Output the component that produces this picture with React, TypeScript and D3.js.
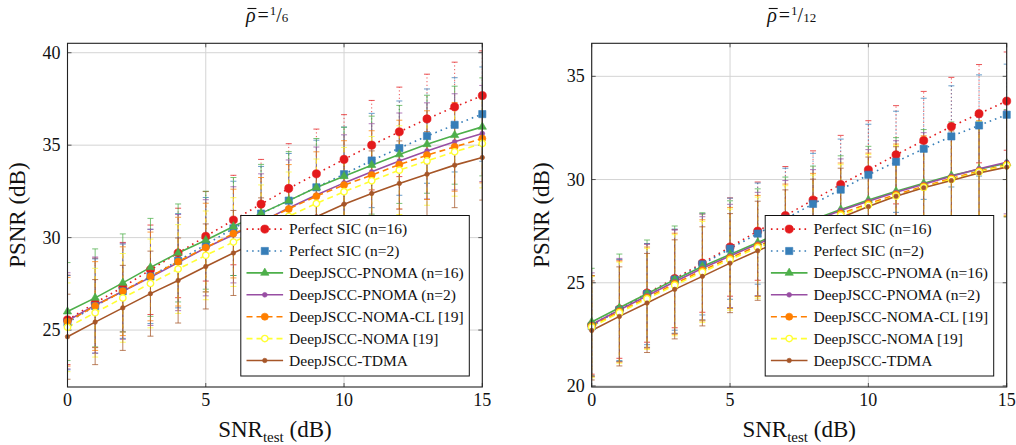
import React from "react";
import * as d3 from "d3";

// ---------- data ----------
const snrTest = [0, 1, 2, 3, 4, 5, 6, 7, 8, 9, 10, 11, 12, 13, 14, 15];

const seriesNames = [
  "Perfect SIC (n=16)",
  "Perfect SIC (n=2)",
  "DeepJSCC-PNOMA (n=16)",
  "DeepJSCC-PNOMA (n=2)",
  "DeepJSCC-NOMA-CL [19]",
  "DeepJSCC-NOMA [19]",
  "DeepJSCC-TDMA",
];

// Left panel: rho = 1/6
const leftPerfect16 = [25.55, 26.47, 27.32, 28.26, 29.17, 30.07, 30.95, 31.81, 32.66, 33.45, 34.23, 35.0, 35.72, 36.42, 37.07, 37.68];
const leftPerfect2 = [25.4, 26.3, 27.1, 27.9, 28.75, 29.62, 30.5, 31.3, 32.0, 32.72, 33.43, 34.17, 34.84, 35.49, 36.1, 36.68];
const leftPnoma16 = [26.0, 26.74, 27.55, 28.39, 29.17, 29.86, 30.6, 31.31, 32.0, 32.71, 33.32, 33.92, 34.5, 35.05, 35.54, 35.99];
const leftPnoma2 = [25.5, 26.35, 27.1, 27.85, 28.65, 29.45, 30.15, 30.85, 31.6, 32.3, 32.96, 33.56, 34.14, 34.69, 35.18, 35.63];
const leftNomaCl = [25.45, 26.3, 27.1, 27.9, 28.7, 29.46, 30.22, 30.85, 31.55, 32.24, 32.84, 33.38, 33.95, 34.46, 34.91, 35.36];
const leftNoma = [25.15, 25.94, 26.74, 27.52, 28.3, 29.04, 29.76, 30.45, 31.15, 31.85, 32.48, 33.07, 33.65, 34.15, 34.64, 35.09];
const leftTdma = [24.64, 25.43, 26.2, 26.97, 27.68, 28.44, 29.17, 29.85, 30.5, 31.13, 31.81, 32.39, 32.93, 33.43, 33.92, 34.33];
// half-length of the error bars (dB) per series
const leftErr = [2.42, 2.55, 2.65, 2.6, 2.4, 2.4, 2.3];

// Right panel: rho = 1/12
const rightPerfect16 = [22.95, 23.72, 24.5, 25.2, 25.95, 26.73, 27.5, 28.25, 29.01, 29.76, 30.47, 31.2, 31.89, 32.57, 33.19, 33.8];
const rightPerfect2 = [22.9, 23.68, 24.45, 25.15, 25.89, 26.65, 27.38, 28.1, 28.82, 29.51, 30.23, 30.86, 31.49, 32.09, 32.62, 33.14];
const rightPnoma16 = [23.1, 23.79, 24.47, 25.15, 25.79, 26.37, 26.95, 27.52, 28.05, 28.55, 29.01, 29.43, 29.82, 30.19, 30.5, 30.79];
const rightPnoma2 = [22.98, 23.68, 24.37, 25.05, 25.7, 26.3, 26.88, 27.45, 27.98, 28.5, 28.95, 29.38, 29.77, 30.16, 30.52, 30.84];
const rightNomaCl = [22.9, 23.6, 24.28, 24.95, 25.6, 26.2, 26.78, 27.33, 27.85, 28.35, 28.83, 29.27, 29.67, 30.05, 30.4, 30.72];
const rightNoma = [22.85, 23.55, 24.22, 24.88, 25.52, 26.12, 26.7, 27.25, 27.77, 28.27, 28.76, 29.2, 29.62, 30.0, 30.36, 30.68];
const rightTdma = [22.69, 23.37, 24.02, 24.68, 25.31, 25.95, 26.55, 27.1, 27.62, 28.15, 28.69, 29.19, 29.6, 29.95, 30.32, 30.6];
const rightErr = [2.38, 2.45, 2.6, 2.5, 2.45, 2.45, 2.4];

const xTicks = [0, 5, 10, 15];
const leftYTicks = [25, 30, 35, 40];
const rightYTicks = [20, 25, 30, 35];

// ---------- styles ----------
type Style = {
  color: string;
  dash: string;
  marker: "circle" | "square" | "triangle" | "smallcircle" | "open";
  size: number;
};
const styles: Style[] = [
  { color: "#e41a1c", dash: "1.6 4", marker: "circle", size: 52 },
  { color: "#377eb8", dash: "1.6 4", marker: "square", size: 52 },
  { color: "#4daf4a", dash: "", marker: "triangle", size: 30 },
  { color: "#984ea3", dash: "", marker: "smallcircle", size: 18 },
  { color: "#ff7f00", dash: "6 4", marker: "circle", size: 40 },
  { color: "#ffff33", dash: "6 4", marker: "open", size: 32 },
  { color: "#a65628", dash: "", marker: "smallcircle", size: 16 },
];

const FONT = '"Liberation Serif", "Times New Roman", Times, "DejaVu Serif", serif';

function symbolPath(s: Style) {
  const t =
    s.marker === "square"
      ? d3.symbolSquare
      : s.marker === "triangle"
      ? d3.symbolTriangle
      : d3.symbolCircle;
  return d3.symbol().type(t).size(s.size)() as string;
}

function Marker({ s, x, y }: { s: Style; x: number; y: number }) {
  const open = s.marker === "open";
  return (
    <path
      d={symbolPath(s)}
      transform={`translate(${x},${y})`}
      fill={open ? "#ffffff" : s.color}
      stroke={s.color}
      strokeWidth={open ? 1.4 : 0.6}
    />
  );
}

type PanelProps = {
  series: number[][];
  errs: number[];
  x0: number;
  x1: number;
  yTop: number;
  yBot: number;
  yDomain: [number, number];
  yTicks: number[];
  titleDen: string;
  id: string;
};

function Panel(p: PanelProps) {
  const x = d3.scaleLinear().domain([0, 15]).range([p.x0, p.x1]);
  const y = d3.scaleLinear().domain(p.yDomain).range([p.yBot, p.yTop]);
  const line = d3
    .line<number>()
    .x((_, i) => x(snrTest[i]))
    .y((d) => y(d));
  const cx = (p.x0 + p.x1) / 2;
  const cy = (p.yTop + p.yBot) / 2;
  const tick = 4;

  // legend geometry
  const lgRight = p.x1 - 13;
  const lgW = 228.5;
  const lgX = lgRight - lgW;
  const lgBottom = p.yBot - 11;
  const lgH = 160.5;
  const lgY = lgBottom - lgH;
  const rowH = 21.9;

  const titleW = p.titleDen.length > 1 ? 64 : 58;
  const tx0 = cx - titleW / 2;

  return (
    <g style={{ fontFamily: FONT }}>
      <defs>
        <clipPath id={`clip-${p.id}`}>
          <rect x={p.x0} y={p.yTop} width={p.x1 - p.x0} height={p.yBot - p.yTop} />
        </clipPath>
      </defs>
      {/* grid */}
      {xTicks.map((t) => (
        <line key={`gx${t}`} x1={x(t)} x2={x(t)} y1={p.yTop} y2={p.yBot} stroke="#d4d4d4" strokeWidth={1} />
      ))}
      {p.yTicks.map((t) => (
        <line key={`gy${t}`} x1={p.x0} x2={p.x1} y1={y(t)} y2={y(t)} stroke="#d4d4d4" strokeWidth={1} />
      ))}
      {/* ticks (inside, all sides) */}
      {xTicks.map((t) => (
        <g key={`tx${t}`} stroke="#555" strokeWidth={1}>
          <line x1={x(t)} x2={x(t)} y1={p.yBot} y2={p.yBot - tick} />
          <line x1={x(t)} x2={x(t)} y1={p.yTop} y2={p.yTop + tick} />
        </g>
      ))}
      {p.yTicks.map((t) => (
        <g key={`ty${t}`} stroke="#555" strokeWidth={1}>
          <line x1={p.x0} x2={p.x0 + tick} y1={y(t)} y2={y(t)} />
          <line x1={p.x1} x2={p.x1 - tick} y1={y(t)} y2={y(t)} />
        </g>
      ))}

      {/* series */}
      <g clipPath={`url(#clip-${p.id})`}>
        {p.series.map((vals, si) => {
          const s = styles[si];
          const e = p.errs[si];
          return (
            <g key={`s${si}`}>
              {vals.map((v, i) => (
                <g key={`e${i}`} stroke={s.color} strokeWidth={0.75}>
                  <line
                    x1={x(snrTest[i])}
                    x2={x(snrTest[i])}
                    y1={y(v - e)}
                    y2={y(v + e)}
                    strokeDasharray={s.dash === "1.6 4" ? "1.2 2.5" : s.dash ? "4 3" : ""}
                  />
                  <line x1={x(snrTest[i]) - 3} x2={x(snrTest[i]) + 3} y1={y(v - e)} y2={y(v - e)} />
                  <line x1={x(snrTest[i]) - 3} x2={x(snrTest[i]) + 3} y1={y(v + e)} y2={y(v + e)} />
                </g>
              ))}
              <path
                d={line(vals) as string}
                fill="none"
                stroke={s.color}
                strokeWidth={1.6}
                strokeDasharray={s.dash}
              />
            </g>
          );
        })}
      </g>
      {p.series.map((vals, si) => (
        <g key={`m${si}`}>
          {vals.map((v, i) => (
            <Marker key={i} s={styles[si]} x={x(snrTest[i])} y={y(v)} />
          ))}
        </g>
      ))}

      {/* axis box */}
      <rect x={p.x0} y={p.yTop} width={p.x1 - p.x0} height={p.yBot - p.yTop} fill="none" stroke="#222" strokeWidth={1.1} />

      {/* tick labels */}
      {xTicks.map((t) => (
        <text key={`lx${t}`} x={x(t)} y={p.yBot + 19} fontSize={18} textAnchor="middle" fill="#111">
          {t}
        </text>
      ))}
      {p.yTicks.map((t) => (
        <text key={`ly${t}`} x={p.x0 - 7} y={y(t) + 6} fontSize={18} textAnchor="end" fill="#111">
          {t}
        </text>
      ))}

      {/* axis labels */}
      <text x={cx} y={437} fontSize={23} textAnchor="middle" fill="#111">
        SNR
        <tspan dy={5} fontSize={15}>test</tspan>
        <tspan dy={-5}> (dB)</tspan>
      </text>
      <text
        transform={`translate(${p.x0 - 43},${cy}) rotate(-90)`}
        fontSize={23}
        textAnchor="middle"
        fill="#111"
      >
        PSNR (dB)
      </text>

      {/* title */}
      <text x={tx0} y={22} fontSize={20} textAnchor="start" fill="#111">
        <tspan fontStyle="italic">ρ</tspan>
        <tspan dx={2}>=</tspan>
        <tspan dx={1} dy={-7} fontSize={13}>1</tspan>
        <tspan dy={7}>/</tspan>
        <tspan fontSize={13}>{p.titleDen}</tspan>
      </text>
      <line x1={tx0 + 1.5} x2={tx0 + 10.5} y1={8.5} y2={8.5} stroke="#111" strokeWidth={1.1} />

      {/* legend */}
      <rect x={lgX} y={lgY} width={lgW} height={lgH} fill="#fff" stroke="#111" strokeWidth={1} />
      {seriesNames.map((name, i) => {
        const s = styles[i];
        const ry = lgY + 13.6 + i * rowH;
        return (
          <g key={`lg${i}`}>
            <line
              x1={lgX + 5.7}
              x2={lgX + 42.3}
              y1={ry}
              y2={ry}
              stroke={s.color}
              strokeWidth={1.6}
              strokeDasharray={s.dash}
            />
            <Marker s={s} x={lgX + 24} y={ry} />
            <text x={lgX + 48.3} y={ry + 5} fontSize={15.5} fill="#111">
              {name}
            </text>
          </g>
        );
      })}
    </g>
  );
}

export default function App() {
  const leftSeries = [leftPerfect16, leftPerfect2, leftPnoma16, leftPnoma2, leftNomaCl, leftNoma, leftTdma];
  const rightSeries = [rightPerfect16, rightPerfect2, rightPnoma16, rightPnoma2, rightNomaCl, rightNoma, rightTdma];
  return (
    <svg
      width={1016}
      height={445}
      style={{ position: "absolute", left: 0, top: 0, background: "#fff", fontFamily: FONT }}
    >
      <rect width={1016} height={445} fill="#fff" />
      <Panel
        id="l"
        series={leftSeries}
        errs={leftErr}
        x0={67.5}
        x1={482.3}
        yTop={43.3}
        yBot={387}
        yDomain={[21.92, 40.51]}
        yTicks={leftYTicks}
        titleDen="6"
      />
      <Panel
        id="r"
        series={rightSeries}
        errs={rightErr}
        x0={591.7}
        x1={1006.7}
        yTop={43.3}
        yBot={387}
        yDomain={[19.95, 36.6]}
        yTicks={rightYTicks}
        titleDen="12"
      />
    </svg>
  );
}
